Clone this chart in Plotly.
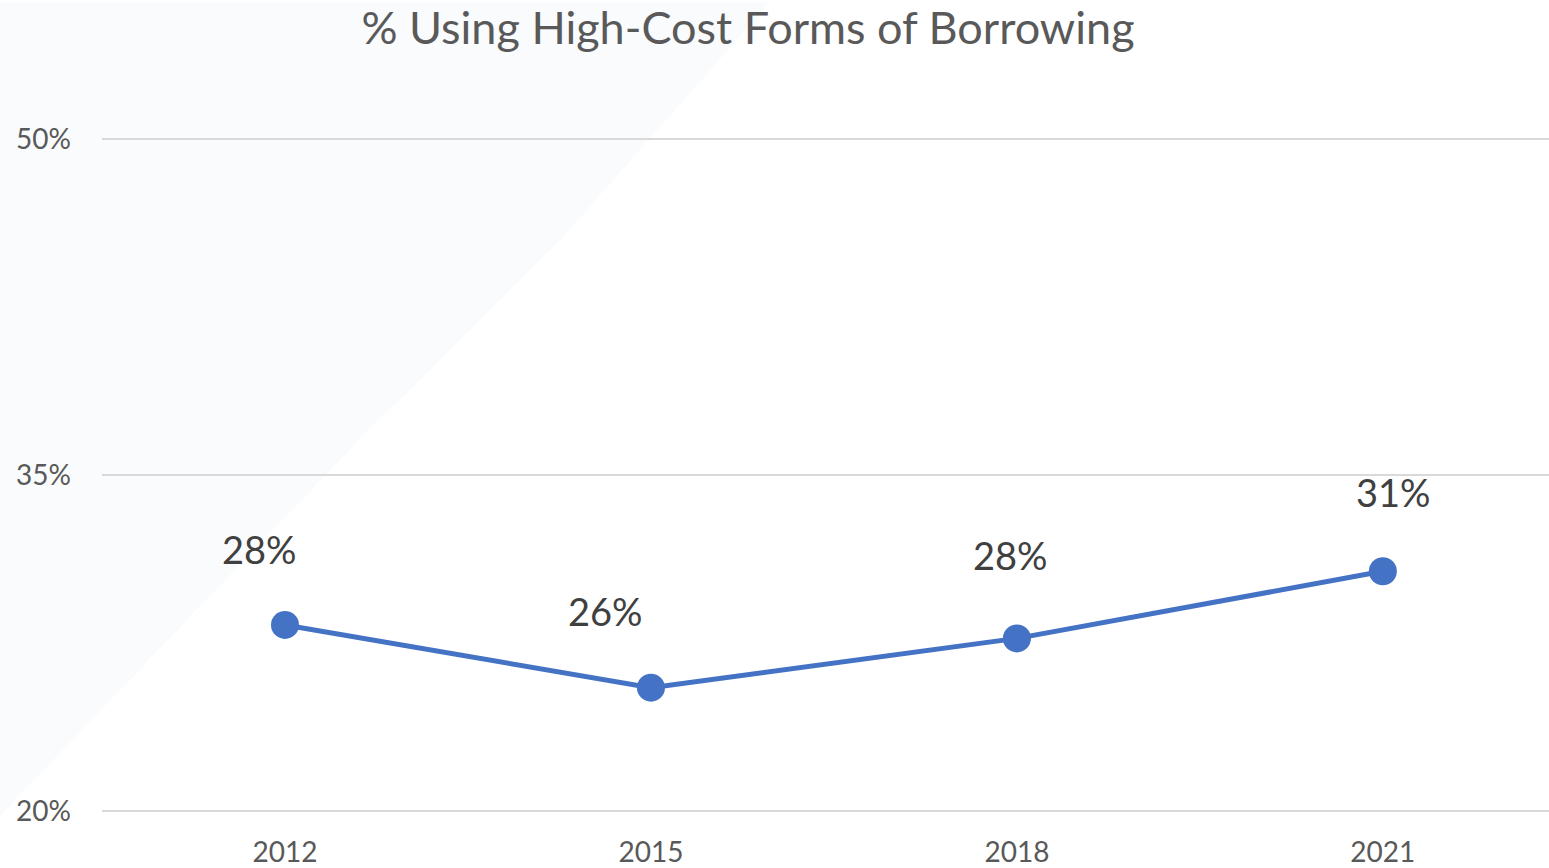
import plotly.graph_objects as go

# Survey years and share of adults using high-cost borrowing (%)
years = ["2012", "2015", "2018", "2021"]
share_pct = [28.3, 25.5, 27.7, 30.7]
y_ticks = [20, 35, 50]
y_tick_labels = ["20%", "35%", "50%"]

# pixel nudges for each data label (x, y)
label_shift = [(-25, 76), (-45, 77), (-6, 83), (11, 79)]

FONT = "Lato, 'Open Sans', sans-serif"
BLUE = "#4472C4"

fig = go.Figure()
fig.add_trace(go.Scatter(
    x=years, y=share_pct, mode="lines+markers",
    line=dict(color=BLUE, width=5),
    marker=dict(color=BLUE, size=28),
    hoverinfo="x+y", showlegend=False,
))

for i, (v, (dx, dy)) in enumerate(zip(share_pct, label_shift)):
    fig.add_annotation(
        x=i, y=v, xref="x", yref="y",
        text=f"{round(v):.0f}%", showarrow=False,
        xshift=dx, yshift=dy,
        font=dict(family=FONT, size=38, color="#404040"),
    )

# faint decorative backdrop shape on the left side
fig.add_shape(
    type="path", xref="paper", yref="paper", layer="below",
    path="M -0.0705,1.199 L 0.4616,1.199 L 0.3165,0.847 L 0.1783,0.5535 L -0.0705,-0.004 Z",
    fillcolor="#FAFBFD", line=dict(width=0),
)

fig.update_layout(
    width=1549, height=868,
    margin=dict(l=102, r=0, t=136.5, b=50),
    paper_bgcolor="white", plot_bgcolor="rgba(0,0,0,0)",
    title=dict(
        text="% Using High-Cost Forms of Borrowing",
        x=748 / 1549, xanchor="center",
        y=1 - 28 / 868, yanchor="middle", yref="container",
        font=dict(family=FONT, size=45, color="#595959"),
    ),
    xaxis=dict(
        type="category", range=[-0.5, 3.454],
        showgrid=False, showline=False, zeroline=False,
        ticks="", ticklabelstandoff=20,
        tickfont=dict(family=FONT, size=28, color="#595959"),
    ),
    yaxis=dict(
        range=[19.9, 50.1], tickvals=y_ticks, ticktext=y_tick_labels,
        showgrid=True, gridcolor="#D9D9D9", gridwidth=2,
        zeroline=False, showline=False, ticks="",
        ticklabelstandoff=30,
        tickfont=dict(family=FONT, size=28, color="#595959"),
    ),
)

fig.write_html("out.html")
